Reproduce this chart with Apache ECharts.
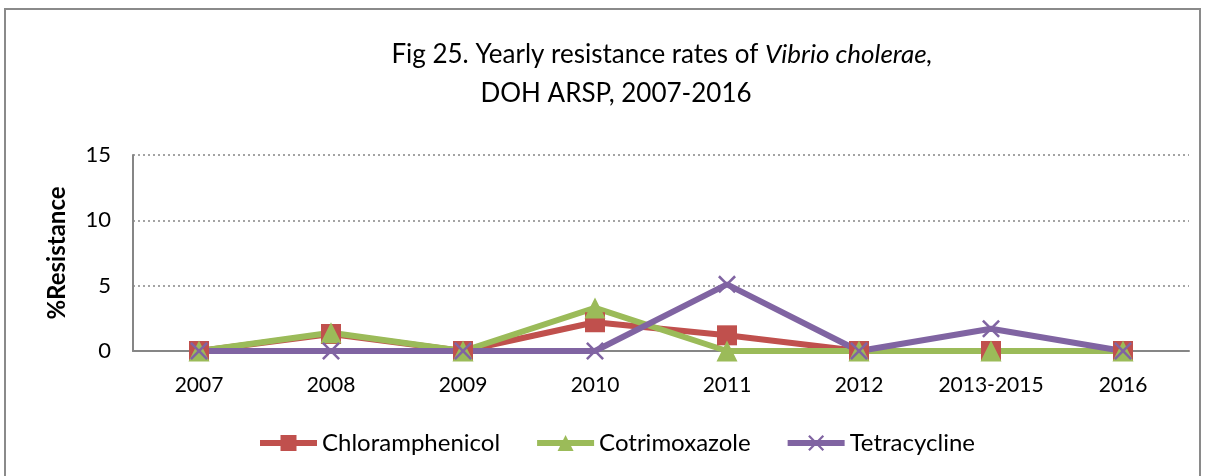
<!DOCTYPE html>
<html>
<head>
<meta charset="utf-8">
<script src="https://cdn.jsdelivr.net/npm/echarts@6/dist/echarts.min.js"></script>
<style>
  html, body { margin: 0; padding: 0; background: #fff; }
  #chart { width: 1205px; height: 476px; }
</style>
</head>
<body>
<div id="chart"></div>
<script>
// data
var categories = ['2007', '2008', '2009', '2010', '2011', '2012', '2013-2015', '2016'];
var chloramphenicol = [0, 1.3, 0, 2.2, 1.2, 0, 0, 0];
var cotrimoxazole = [0, 1.4, 0, 3.3, 0, 0, 0, 0];
var tetracycline = [0, 0, 0, 0, 5.1, 0, 1.7, 0];
var yTicks = [0, 5, 10, 15];

var FONT = 'Lato, "Open Sans", sans-serif';
var AXIS_GRAY = '#868686';
// cross marker (filled polygon so it gets the series colour)
var crossPath = 'path://M0,1 L1,0 L5,4 L9,0 L10,1 L6,5 L10,9 L9,10 L5,6 L1,10 L0,9 L4,5 Z';

var chart = echarts.init(document.getElementById('chart'));

function lineSeries(name, data, color, symbol, size) {
    return {
        name: name,
        type: 'line',
        data: data,
        symbol: symbol,
        symbolSize: size,
        showAllSymbol: true,
        lineStyle: { width: 6, color: color },
        itemStyle: { color: color },
        emphasis: { disabled: true },
        z: 3
    };
}

var option = {
    animation: false,
    textStyle: { fontFamily: FONT },
    graphic: [{
        type: 'rect',
        shape: { x: 5, y: 9, width: 1195, height: 480 },
        style: { fill: 'none', stroke: '#8a8a8a', lineWidth: 2 },
        silent: true
    }],
    title: [{
        text: '{n|Fig 25. Yearly resistance rates of }{i|Vibrio cholerae,}',
        left: 657,
        top: 37,
        textAlign: 'center',
        textStyle: {
            fontWeight: 'normal',
            rich: {
                n: { fontFamily: FONT, fontSize: 26, fontWeight: 'normal', color: '#000' },
                i: { fontFamily: FONT, fontSize: 26, fontWeight: 'normal', fontStyle: 'italic', color: '#000' }
            }
        }
    }, {
        text: 'DOH ARSP, 2007-2016',
        left: 611,
        top: 76,
        textAlign: 'center',
        textStyle: { fontFamily: FONT, fontSize: 26, fontWeight: 'normal', color: '#000' }
    }],
    legend: {
        bottom: 16,
        left: 252,
        itemWidth: 57,
        itemHeight: 20,
        itemGap: 34,
        lineStyle: { width: 6 },
        textStyle: { fontFamily: FONT, fontSize: 24, color: '#000' },
        data: ['Chloramphenicol', 'Cotrimoxazole', 'Tetracycline']
    },
    grid: { left: 133, right: 16, top: 155, bottom: 125 },
    xAxis: {
        type: 'category',
        data: categories,
        boundaryGap: true,
        axisLine: { lineStyle: { color: AXIS_GRAY, width: 2 } },
        axisTick: { show: false },
        axisLabel: { interval: 0, fontSize: 21, color: '#000', margin: 24, fontFamily: FONT }
    },
    yAxis: {
        type: 'value',
        min: 0,
        max: 15,
        interval: 5,
        name: '%Resistance',
        nameLocation: 'middle',
        nameGap: 64,
        nameTextStyle: { fontSize: 24, fontWeight: 'bold', color: '#000', fontFamily: FONT },
        axisLine: { show: true, lineStyle: { color: AXIS_GRAY, width: 2 } },
        axisTick: { show: false },
        axisLabel: {
            fontSize: 22, color: '#000', margin: 22, fontFamily: FONT,
            formatter: function (v) { return yTicks.indexOf(v) >= 0 ? String(v) : ''; }
        },
        splitLine: { lineStyle: { color: AXIS_GRAY, type: [2, 3], width: 1.5 } }
    },
    series: [
        lineSeries('Chloramphenicol', chloramphenicol, '#C0504D', 'rect', 20),
        lineSeries('Cotrimoxazole', cotrimoxazole, '#9BBB59', 'triangle', 21),
        lineSeries('Tetracycline', tetracycline, '#8064A2', crossPath, 18)
    ]
};

chart.setOption(option);
</script>
</body>
</html>
